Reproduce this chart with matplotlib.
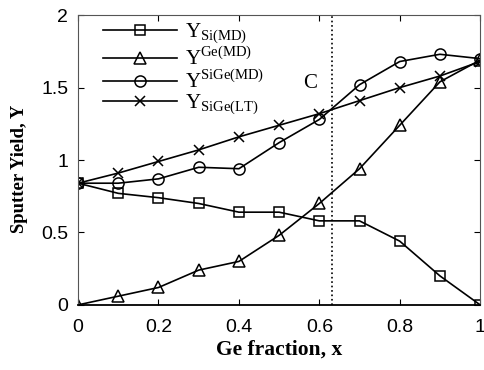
import numpy as np
import matplotlib.pyplot as plt

plt.rcParams['mathtext.fontset'] = 'custom'
plt.rcParams['mathtext.rm'] = 'Liberation Serif'

# data
x = [0, 0.1, 0.2, 0.3, 0.4, 0.5, 0.6, 0.7, 0.8, 0.9, 1.0]
y_si_md = [0.84, 0.77, 0.74, 0.70, 0.64, 0.64, 0.58, 0.58, 0.44, 0.20, 0.0]
y_ge_md = [0.0, 0.06, 0.12, 0.24, 0.30, 0.48, 0.70, 0.94, 1.24, 1.54, 1.69]
y_sige_md = [0.84, 0.84, 0.87, 0.95, 0.94, 1.12, 1.28, 1.52, 1.68, 1.73, 1.70]
y_sige_lt = [0.84, 0.91, 0.99, 1.07, 1.16, 1.24, 1.32, 1.41, 1.50, 1.58, 1.68]
labels = [r'$\mathrm{Y}_{\mathrm{Si(MD)}}$', r'$\mathrm{Y}^{\mathrm{Ge(MD)}}$',
          r'$\mathrm{Y}^{\mathrm{SiGe(MD)}}$', r'$\mathrm{Y}_{\mathrm{SiGe(LT)}}$']
x_c = 0.632

fig = plt.figure(figsize=(4.85, 3.7), dpi=100)
ax = fig.add_axes([0.161, 0.176, 0.829, 0.783])

style = dict(color='black', lw=1.2, markerfacecolor='none', markeredgewidth=1.1)
ax.plot(x, y_si_md, marker='s', ms=6.5, label=labels[0], **style)
ax.plot(x, y_ge_md, marker='^', ms=8, label=labels[1], **style)
ax.plot(x, y_sige_md, marker='o', ms=8, label=labels[2], **style)
ax.plot(x, y_sige_lt, marker='x', ms=7, label=labels[3], **style)

ax.axvline(x_c, color='black', ls=':', lw=1.2)
ax.text(0.56, 1.53, 'C', fontsize=15, family='Liberation Serif', va='center')

ax.set_xlim(0, 1)
ax.set_ylim(0, 2)
ax.set_xticks([0, 0.2, 0.4, 0.6, 0.8, 1])
ax.set_xticklabels(['0', '0.2', '0.4', '0.6', '0.8', '1'])
ax.set_yticks([0, 0.5, 1, 1.5, 2])
ax.set_yticklabels(['0', '0.5', '1', '1.5', '2'])
ax.tick_params(direction='in', top=True, right=True, labelsize=14, length=4)
ax.tick_params(axis='x', pad=10)
ax.tick_params(axis='y', pad=7)
for lab in ax.get_xticklabels() + ax.get_yticklabels():
    lab.set_family('Liberation Sans')
for sp in ax.spines.values():
    sp.set_color('#555555')
ax.spines['bottom'].set_color('black')
ax.spines['bottom'].set_linewidth(1.3)

ax.set_xlabel('Ge fraction, x', fontsize=15.5, fontweight='bold', family='Liberation Serif', labelpad=3)
ax.set_ylabel('Sputter Yield, Y', fontsize=13.5, fontweight='bold', family='Liberation Serif')
ax.yaxis.set_label_coords(-0.125, 0.47)

ax.legend(loc='upper left', frameon=False, fontsize=15, handlelength=3.55,
          labelspacing=0.0, borderpad=0, borderaxespad=0, bbox_to_anchor=(0.062, 0.978),
          handletextpad=0.4)

fig.savefig('out.png', dpi=100)
